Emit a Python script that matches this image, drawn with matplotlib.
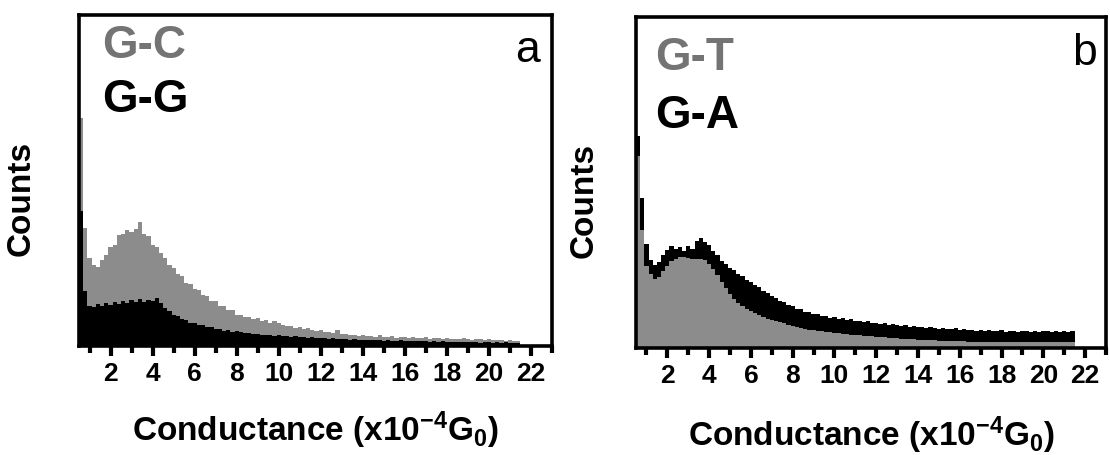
import matplotlib.pyplot as plt
import numpy as np

plt.rcParams.update({
    "font.family": "Liberation Sans",
    "mathtext.fontset": "custom",
    "mathtext.rm": "Liberation Sans:bold",
    "mathtext.bf": "Liberation Sans:bold",
    "mathtext.default": "rm",
})

# histogram bins (conductance, x10^-4 G0)
BIN_START = 0.5
BIN_WIDTH = 0.2

# panel a, counts per bin
g_c = [228, 118, 88, 81, 79, 86, 91, 99, 101, 111,
       112, 116, 114, 117, 124, 112, 110, 101, 99, 93,
       88, 81, 78, 72, 70, 63, 62, 57, 56, 51,
       50, 45, 45, 40, 40, 36, 36, 31, 31, 29,
       29, 27, 28, 25, 26, 23, 25, 23, 21, 20,
       20, 18, 19, 17, 18, 16, 15, 16, 14, 14,
       13, 16, 12, 12, 11, 11, 10, 11, 10, 10,
       9, 11, 9, 9, 10, 8, 9, 9, 8, 9,
       8, 8, 9, 7, 8, 8, 7, 8, 7, 7,
       7, 8, 7, 6, 7, 7, 6, 7, 6, 6,
       6, 5, 6, 5, 5]
g_g = [135, 55, 40, 39, 42, 40, 43, 41, 44, 42,
       45, 43, 46, 44, 47, 44, 46, 45, 48, 43,
       38, 35, 31, 30, 27, 26, 23, 23, 21, 21,
       19, 19, 17, 17, 15, 16, 14, 15, 14, 13,
       13, 12, 12, 11, 11, 11, 10, 11, 10, 10,
       9, 10, 9, 9, 8, 9, 8, 8, 8, 7,
       8, 7, 7, 7, 6, 7, 6, 6, 6, 6,
       6, 6, 5, 6, 5, 5, 6, 5, 5, 5,
       5, 5, 5, 4, 5, 4, 5, 4, 4, 4,
       4, 4, 4, 4, 4, 3, 4, 4, 3, 4,
       3, 4, 3, 3, 3]

# panel b, counts per bin
g_a = [212, 150, 104, 88, 83, 86, 93, 98, 102, 99,
       101, 97, 102, 99, 107, 110, 106, 103, 97, 93,
       87, 84, 80, 78, 74, 72, 68, 66, 63, 61,
       57, 55, 52, 50, 47, 46, 43, 42, 39, 39,
       36, 36, 34, 34, 32, 32, 30, 31, 29, 30,
       28, 29, 27, 27, 26, 27, 25, 25, 24, 25,
       23, 24, 23, 22, 23, 21, 22, 21, 21, 20,
       21, 20, 19, 20, 19, 19, 20, 18, 19, 18,
       18, 17, 18, 17, 18, 17, 17, 18, 16, 17,
       17, 16, 17, 17, 16, 17, 16, 17, 17, 16,
       17, 16, 17, 16, 17]
g_t = [192, 118, 82, 74, 69, 71, 77, 82, 87, 89,
       91, 91, 90, 89, 89, 89, 88, 84, 79, 73,
       66, 60, 54, 49, 45, 42, 39, 37, 35, 33,
       31, 29, 28, 27, 26, 25, 23, 22, 21, 20,
       19, 18, 18, 17, 17, 16, 16, 15, 15, 14,
       14, 13, 13, 13, 12, 12, 12, 11, 11, 11,
       10, 10, 10, 9, 9, 9, 9, 8, 8, 8,
       8, 8, 7, 7, 7, 7, 7, 7, 7, 6,
       6, 6, 6, 6, 6, 6, 6, 6, 6, 6,
       6, 6, 6, 6, 6, 6, 6, 6, 6, 6,
       6, 6, 6, 6, 6]

GRAY = '#8c8c8c'
TEXT_GRAY = '#747474'
XLABEL = 'Conductance (x10$^{-4}$G$_{0}$)'

edges = BIN_START + BIN_WIDTH * np.arange(len(g_c) + 1)


def style_axes(ax):
    ax.set_xlim(0.5, 23)
    ax.set_ylim(0, 331)
    ax.set_xticks(range(2, 23, 2))
    ax.set_xticks(range(1, 24, 2), minor=True)
    ax.set_yticks([])
    ax.tick_params(axis='x', which='major', direction='out', length=7, width=3, pad=4)
    ax.tick_params(axis='x', which='minor', direction='out', length=5, width=3)
    ax.set_xticklabels([str(t) for t in range(2, 23, 2)], fontsize=19, fontweight='bold')
    for s in ax.spines.values():
        s.set_linewidth(2.6)
    ax.set_ylabel('Counts', fontsize=24, fontweight='bold')


fig = plt.figure(figsize=(11.1, 4.56), dpi=100)

## PANEL A
ax_a = fig.add_axes([0.0712, 0.239, 0.4261, 0.7259])
ax_a.stairs(g_c, edges, fill=True, color=GRAY, zorder=1)
ax_a.stairs(g_g, edges, fill=True, color='black', zorder=2)
style_axes(ax_a)
ax_a.yaxis.set_label_coords(-0.089, 0.45)
ax_a.text(0.5, -0.284, XLABEL, transform=ax_a.transAxes, ha='center', va='baseline', fontsize=24, fontweight='bold')
ax_a.text(0.049, 0.873, 'G-C', transform=ax_a.transAxes, va='baseline', fontsize=33, fontweight='bold', color=TEXT_GRAY)
ax_a.text(0.049, 0.710, 'G-G', transform=ax_a.transAxes, va='baseline', fontsize=33, fontweight='bold', color='black')
ax_a.text(0.975, 0.861, 'a', transform=ax_a.transAxes, ha='right', va='baseline', fontsize=32)

## PANEL B
ax_b = fig.add_axes([0.573, 0.2346, 0.4234, 0.7259])
ax_b.stairs(g_a, edges, fill=True, color='black', zorder=1)
ax_b.stairs(g_t, edges, fill=True, color=GRAY, zorder=2)
style_axes(ax_b)
ax_b.yaxis.set_label_coords(-0.077, 0.45)
ax_b.text(0.5, -0.293, XLABEL, transform=ax_b.transAxes, ha='center', va='baseline', fontsize=24, fontweight='bold')
ax_b.text(0.040, 0.843, 'G-T', transform=ax_b.transAxes, va='baseline', fontsize=33, fontweight='bold', color=TEXT_GRAY)
ax_b.text(0.040, 0.668, 'G-A', transform=ax_b.transAxes, va='baseline', fontsize=33, fontweight='bold', color='black')
ax_b.text(0.981, 0.858, 'b', transform=ax_b.transAxes, ha='right', va='baseline', fontsize=32)

fig.savefig('out.png', dpi=100)
